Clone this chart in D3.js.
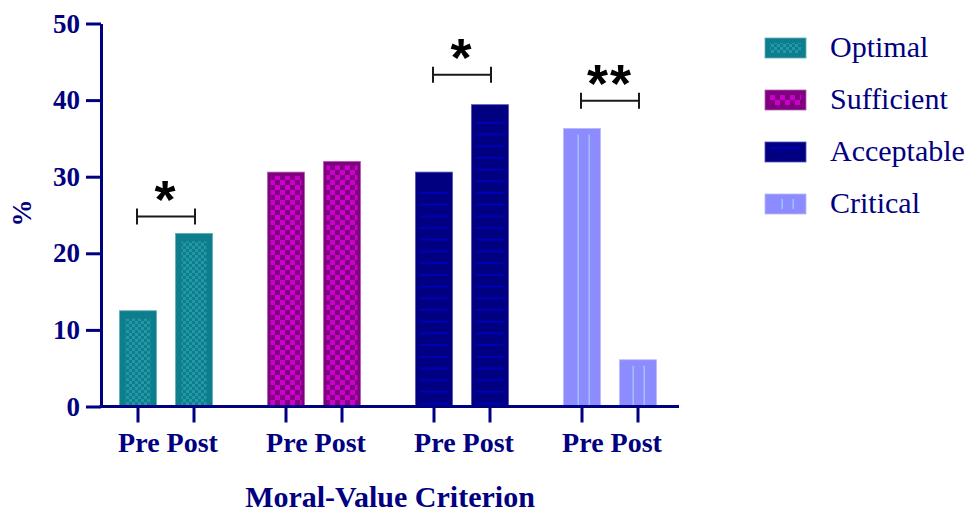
<!DOCTYPE html>
<html>
<head>
<meta charset="utf-8">
<script src="https://cdn.jsdelivr.net/npm/d3@7"></script>
<style>
  html, body { margin: 0; padding: 0; background: #fff; }
  svg { display: block; }
</style>
</head>
<body>
<svg id="chart" width="974" height="513"></svg>
<script>
// Moral-value criterion: share of respondents (%) before and after
const groups = ["Optimal", "Sufficient", "Acceptable", "Critical"];
const phases = ["Pre", "Post"];
const preValues = [12.5, 30.6, 30.6, 36.3];
const postValues = [22.6, 32.0, 39.4, 6.1];
const yTicks = [0, 10, 20, 30, 40, 50];
// significance markers: group, label, bracket level (in %)
const sigGroups = ["Optimal", "Acceptable", "Critical"];
const sigLabels = ["*", "*", "**"];
const sigLevels = [24.8, 43.3, 39.9];

const ink = "#000080";
const serif = "'Liberation Serif', 'Times New Roman', serif";

const svg = d3.select("#chart");
const defs = svg.append("defs");

// fill patterns for each series
const styles = {
  Optimal:    { base: "#0e7e8d", edge: "#5fb0ba", pattern: "pOptimal",    inset: [6, 8] },
  Sufficient: { base: "#800080", edge: "#b060b0", pattern: "pSufficient", inset: [3, 4] },
  Acceptable: { base: "#000080", edge: "#5050b8", pattern: "pAcceptable", inset: [5, 12] },
  Critical:   { base: "#8c8cff", edge: "#b8b8ff", pattern: "pCritical",   inset: [10, 6] }
};

// teal small checker
let p = defs.append("pattern").attr("id", "pOptimal").attr("patternUnits", "userSpaceOnUse")
  .attr("width", 6).attr("height", 6);
p.append("rect").attr("width", 6).attr("height", 6).attr("fill", "#0e7e8d");
p.append("rect").attr("width", 3).attr("height", 3).attr("fill", "#2398a7");
p.append("rect").attr("x", 3).attr("y", 3).attr("width", 3).attr("height", 3).attr("fill", "#2398a7");

// purple / magenta checker
p = defs.append("pattern").attr("id", "pSufficient").attr("patternUnits", "userSpaceOnUse")
  .attr("width", 10).attr("height", 10);
p.append("rect").attr("width", 10).attr("height", 10).attr("fill", "#800080");
p.append("rect").attr("width", 5).attr("height", 5).attr("fill", "#cc00cc");
p.append("rect").attr("x", 5).attr("y", 5).attr("width", 5).attr("height", 5).attr("fill", "#cc00cc");

// navy with horizontal blue rules
p = defs.append("pattern").attr("id", "pAcceptable").attr("patternUnits", "userSpaceOnUse")
  .attr("width", 12).attr("height", 11.7);
p.append("rect").attr("width", 12).attr("height", 11.7).attr("fill", "#000080");
p.append("rect").attr("y", 5).attr("width", 12).attr("height", 1.4).attr("fill", "#0000d0");

// periwinkle with vertical light rules
p = defs.append("pattern").attr("id", "pCritical").attr("patternUnits", "userSpaceOnUse")
  .attr("width", 11).attr("height", 10);
p.append("rect").attr("width", 11).attr("height", 10).attr("fill", "#8c8cff");
p.append("rect").attr("x", 5.5).attr("width", 1.4).attr("height", 10).attr("fill", "#9fc8ff");

// scales
const x0 = d3.scaleBand().domain(groups).range([92, 684]);
const x1 = d3.scaleBand().domain(phases).range([18, 130])
  .paddingInner(19 / 56).paddingOuter(19 / 112);
const y = d3.scaleLinear().domain([0, 50]).range([406.5, 23.5]);

const rows = [];
groups.forEach((g, i) => {
  rows.push({ group: g, phase: "Pre", value: preValues[i] });
  rows.push({ group: g, phase: "Post", value: postValues[i] });
});
const barCenter = d => x0(d.group) + x1(d.phase) + x1.bandwidth() / 2;

// bars
const bars = svg.append("g").selectAll("g").data(rows).join("g");
bars.append("rect")
  .attr("x", d => x0(d.group) + x1(d.phase))
  .attr("y", d => y(d.value))
  .attr("width", x1.bandwidth())
  .attr("height", d => y(0) - y(d.value))
  .attr("fill", d => styles[d.group].base)
  .attr("stroke", d => styles[d.group].edge)
  .attr("stroke-width", 0.8);
bars.append("rect")
  .attr("x", d => x0(d.group) + x1(d.phase) + styles[d.group].inset[0])
  .attr("y", d => y(d.value) + styles[d.group].inset[1])
  .attr("width", d => x1.bandwidth() - 2 * styles[d.group].inset[0])
  .attr("height", d => Math.max(0, y(0) - y(d.value) - styles[d.group].inset[1]))
  .attr("fill", d => `url(#${styles[d.group].pattern})`);

// y axis
const yAxis = svg.append("g")
  .attr("transform", "translate(101,0)")
  .call(d3.axisLeft(y).tickValues(yTicks).tickSize(15).tickSizeOuter(0).tickPadding(6));
yAxis.select(".domain").attr("stroke", ink).attr("stroke-width", 3);
yAxis.selectAll(".tick line").attr("stroke", ink).attr("stroke-width", 3);
yAxis.selectAll(".tick text")
  .attr("fill", ink)
  .style("font-family", serif)
  .style("font-weight", "bold")
  .style("font-size", "27px");

// x axis baseline and ticks
svg.append("line")
  .attr("x1", 99.5).attr("x2", 679)
  .attr("y1", y(0)).attr("y2", y(0))
  .attr("stroke", ink).attr("stroke-width", 3);
svg.append("g").selectAll("line").data(rows).join("line")
  .attr("x1", barCenter)
  .attr("x2", barCenter)
  .attr("y1", y(0)).attr("y2", y(0) + 16)
  .attr("stroke", ink).attr("stroke-width", 3);

// category labels: one "Pre Post" caption under each group
svg.append("g").selectAll("text").data(groups).join("text")
  .attr("x", g => x0(g) + x0.bandwidth() / 2 + 2)
  .attr("y", 452)
  .attr("text-anchor", "middle")
  .attr("fill", ink)
  .style("font-family", serif)
  .style("font-weight", "bold")
  .style("font-size", "28px")
  .text(phases.join(" "));

// axis titles
svg.append("text")
  .attr("x", 390).attr("y", 507)
  .attr("text-anchor", "middle")
  .attr("fill", ink)
  .style("font-family", serif)
  .style("font-weight", "bold")
  .style("font-size", "30px")
  .text("Moral-Value Criterion");
svg.append("text")
  .attr("transform", "translate(31,213) rotate(-90)")
  .attr("text-anchor", "middle")
  .attr("fill", ink)
  .style("font-family", serif)
  .style("font-weight", "bold")
  .style("font-size", "27px")
  .text("%");

// significance brackets
const sig = svg.append("g").selectAll("g").data(sigGroups.map((g, i) => ({
  group: g, label: sigLabels[i], level: sigLevels[i]
}))).join("g");
const half = 29;
sig.append("path")
  .attr("d", d => {
    const cx = x0(d.group) + x0.bandwidth() / 2;
    const yy = y(d.level);
    return `M${cx - half},${yy - 8}V${yy + 8}M${cx - half},${yy}H${cx + half}M${cx + half},${yy - 8}V${yy + 8}`;
  })
  .attr("fill", "none")
  .attr("stroke", "#1a1a1a")
  .attr("stroke-width", 2);
sig.append("text")
  .attr("x", d => x0(d.group) + x0.bandwidth() / 2)
  .attr("y", d => y(d.level) + 1)
  .attr("text-anchor", "middle")
  .attr("fill", "#000")
  .style("font-family", "'Liberation Sans', Arial, sans-serif")
  .style("font-weight", "bold")
  .style("font-size", "54px")
  .style("letter-spacing", "2px")
  .text(d => d.label);

// legend
const legend = svg.append("g").selectAll("g").data(groups).join("g")
  .attr("transform", (d, i) => `translate(765,${38 + i * 52})`);
legend.append("rect")
  .attr("width", 41).attr("height", 20)
  .attr("fill", d => styles[d].base)
  .attr("stroke", d => styles[d].edge)
  .attr("stroke-width", 0.8);
legend.append("rect")
  .attr("x", d => d === "Critical" ? 11 : 5)
  .attr("y", d => d === "Acceptable" ? 4 : 5)
  .attr("width", d => d === "Critical" ? 19 : 31)
  .attr("height", d => d === "Acceptable" ? 12 : 10)
  .attr("fill", d => `url(#${styles[d].pattern})`);
legend.append("text")
  .attr("x", 65).attr("y", 19)
  .attr("fill", ink)
  .style("font-family", serif)
  .style("font-size", "30px")
  .text(d => d);
</script>
</body>
</html>
